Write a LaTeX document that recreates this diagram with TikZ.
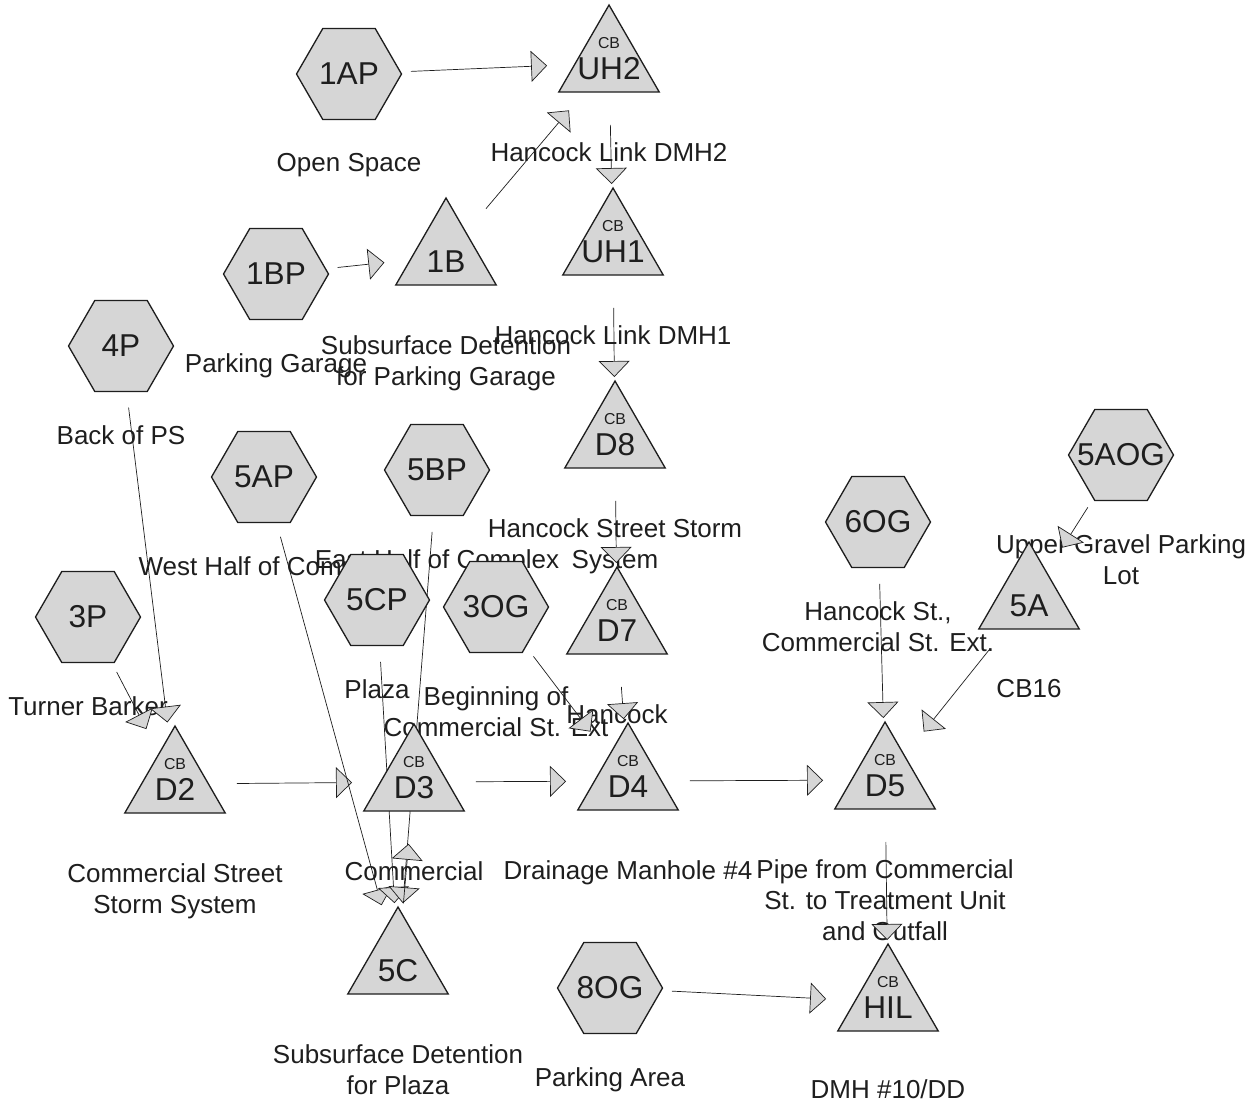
\documentclass[tikz,border=0pt]{standalone}
\usepackage{fontspec}
\setmainfont{Liberation Sans}
\usepackage{tikz}
\usetikzlibrary{arrows.meta,positioning,shapes.geometric}
\definecolor{ink}{HTML}{1E1E1E}
\definecolor{stipple}{HTML}{D6D6D6}
\pgfdeclarelayer{back}
\pgfsetlayers{back,main}
\newcommand{\hname}[1]{\makebox[0pt]{#1}}
\newcommand{\tname}[1]{\makebox[0pt]{\raisebox{-0.33cm}[0pt][0pt]{#1}}}

\begin{document}
\begin{tikzpicture}[x=0.02cm,y=-0.02cm,line width=0.75pt,
  >={Triangle[fill=stipple,length=0.32cm,width=0.62cm]},
  hexa/.style={regular polygon,regular polygon sides=6,minimum size=2.1cm,inner sep=0pt,
    draw=ink,fill=stipple,text=ink,font=\fontsize{18}{20}\selectfont},
  tri/.style={regular polygon,regular polygon sides=3,minimum size=2.32cm,inner sep=0pt,
    draw=ink,fill=stipple,text=ink,font=\fontsize{18}{20}\selectfont},
  cb/.style={label={[font=\fontsize{9}{10}\selectfont,text=ink,inner sep=0pt,yshift=0.40cm]center:CB}},
  desc/.style={align=center,inner sep=0pt,text=ink,font=\fontsize{14.8}{17.6}\selectfont},
  link/.style={->,draw=ink,shorten <=1.24cm,shorten >=1.24cm}]
\useasboundingbox (0,0) rectangle (1256,1103);
% subcatchments
\node[hexa] (n1AP) at (349,74) {\hname{1AP}};
\node[hexa] (n1BP) at (276,274) {\hname{1BP}};
\node[hexa] (n4P) at (121,346) {\hname{4P}};
\node[hexa] (n5AP) at (264,477) {\hname{5AP}};
\node[hexa] (n5BP) at (437,470) {\hname{5BP}};
\node[hexa] (n3P) at (88,617) {\hname{3P}};
\node[hexa] (n5CP) at (377,600) {\hname{5CP}};
\node[hexa] (n3OG) at (496,607) {\hname{3OG}};
\node[hexa] (n6OG) at (878,522) {\hname{6OG}};
\node[hexa] (n5AOG) at (1121,455) {\hname{5AOG}};
\node[hexa] (n8OG) at (610,988) {\hname{8OG}};
% ponds and catch basins
\node[tri,cb] (nUH2) at (609,63) {\tname{UH2}};
\node[tri,cb] (nUH1) at (613,246) {\tname{UH1}};
\node[tri] (n1B) at (446,256) {\tname{1B}};
\node[tri,cb] (nD8) at (615,439) {\tname{D8}};
\node[tri,cb] (nD7) at (617,625) {\tname{D7}};
\node[tri,cb] (nD2) at (175,784) {\tname{D2}};
\node[tri,cb] (nD3) at (414,782) {\tname{D3}};
\node[tri,cb] (nD4) at (628,781) {\tname{D4}};
\node[tri,cb] (nD5) at (885,780) {\tname{D5}};
\node[tri] (n5A) at (1029,600) {\tname{5A}};
\node[tri] (n5C) at (398,965) {\tname{5C}};
\node[tri,cb] (nHIL) at (888,1002) {\tname{HIL}};
\begin{pgfonlayer}{back}
% descriptions under each node
\node[desc,below=1.58cm of n1AP.center] (d1AP) {Open Space};
\node[desc,below=1.58cm of n1BP.center] (d1BP) {Parking Garage};
\node[desc,below=1.58cm of n1B.center] (d1B) {Subsurface Detention\\for Parking Garage};
\node[desc,below=1.58cm of nUH2.center] (dUH2) {Hancock Link DMH2};
\node[desc,below=1.58cm of nUH1.center] (dUH1) {Hancock Link DMH1};
\node[desc,below=1.58cm of n4P.center] (d4P) {Back of PS};
\node[desc,below=1.58cm of n5AP.center] (d5AP) {West Half of Complex};
\node[desc,below=1.58cm of n5BP.center] (d5BP) {East Half of Complex};
\node[desc,below=1.58cm of nD8.center] (dD8) {Hancock Street Storm\\System};
\node[desc,below=1.58cm of n3P.center] (d3P) {Turner Barker};
\node[desc,below=1.58cm of n5CP.center] (d5CP) {Plaza};
\node[desc,below=1.58cm of n3OG.center] (d3OG) {Beginning of\\Commercial St. Ext};
\node[desc,below=1.58cm of nD7.center] (dD7) {Hancock};
\node[desc,below=1.58cm of n6OG.center] (d6OG) {Hancock St.,\\Commercial St. Ext.};
\node[desc,below=1.58cm of n5AOG.center] (d5AOG) {Upper Gravel Parking\\Lot};
\node[desc,below=1.58cm of n5A.center] (d5A) {CB16};
\node[desc,below=1.58cm of nD2.center] (dD2) {Commercial Street\\Storm System};
\node[desc,below=1.58cm of nD3.center] (dD3) {Commercial};
\node[desc,below=1.58cm of nD4.center] (dD4) {Drainage Manhole \#4};
\node[desc,below=1.58cm of nD5.center] (dD5) {Pipe from Commercial\\St. to Treatment Unit\\and Outfall};
\node[desc,below=1.58cm of n5C.center] (d5C) {Subsurface Detention\\for Plaza};
\node[desc,below=1.58cm of n8OG.center] (d8OG) {Parking Area};
\node[desc,below=1.54cm of nHIL.center] (dHIL) {DMH \#10/DD};
% links
\draw[link] (n1AP.center) -- (nUH2.center);
\draw[link] (n1BP.center) -- (n1B.center);
\draw[link] (n1B.center) -- (nUH2.center);
\draw[link] (nUH2.center) -- (nUH1.center);
\draw[link] (nUH1.center) -- (nD8.center);
\draw[link] (nD8.center) -- (nD7.center);
\draw[link] (nD7.center) -- (nD4.center);
\draw[link] (n3OG.center) -- (nD4.center);
\draw[link] (n4P.center) -- (nD2.center);
\draw[link] (n3P.center) -- (nD2.center);
\draw[link] (nD2.center) -- (nD3.center);
\draw[link] (nD3.center) -- (nD4.center);
\draw[link] (nD4.center) -- (nD5.center);
\draw[link] (n6OG.center) -- (nD5.center);
\draw[link] (n5AOG.center) -- (n5A.center);
\draw[link] (n5A.center) -- (nD5.center);
\draw[link] (nD5.center) -- (nHIL.center);
\draw[link] (n8OG.center) -- (nHIL.center);
\draw[link] (n5AP.center) -- (n5C.center);
\draw[link] (n5CP.center) -- (n5C.center);
\draw[link] (n5BP.center) -- (n5C.center);
\draw[link] (n5C.center) -- (nD3.center);
\end{pgfonlayer}
\end{tikzpicture}
\end{document}
